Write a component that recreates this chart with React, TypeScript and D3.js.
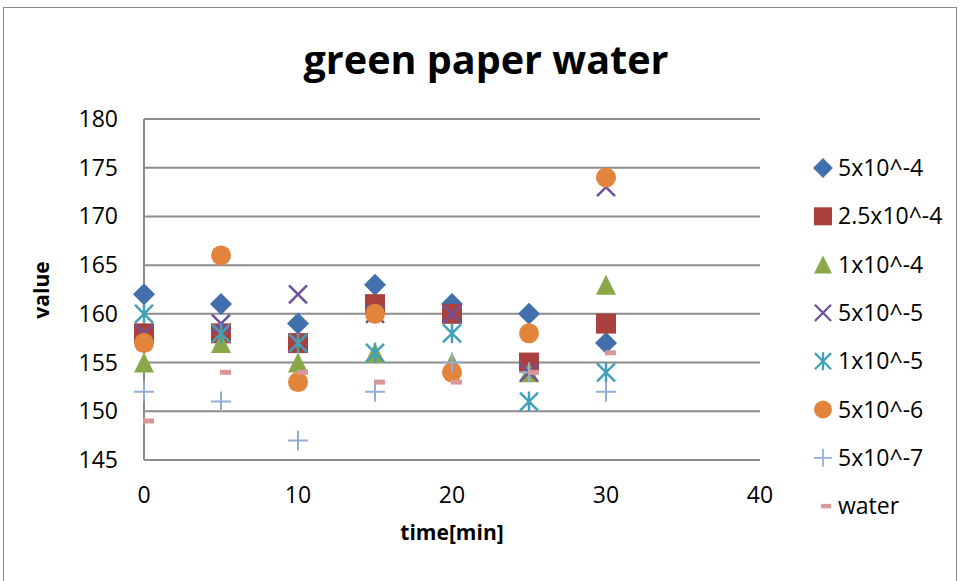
import React from "react";
import * as d3 from "d3";

const times = [0, 5, 10, 15, 20, 25, 30];
const seriesNames = ["5x10^-4", "2.5x10^-4", "1x10^-4", "5x10^-5", "1x10^-5", "5x10^-6", "5x10^-7", "water"];
const s1 = [162, 161, 159, 163, 161, 160, 157];
const s2 = [158, 158, 157, 161, 160, 155, 159];
const s3 = [155, 157, 155, 156, 155, 154, 163];
const s4 = [158, 159, 162, 160, 160, 154, 173];
const s5 = [160, 158, 157, 156, 158, 151, 154];
const s6 = [157, 166, 153, 160, 154, 158, 174];
const s7 = [152, 151, 147, 152, 155, 154, 152];
const s8 = [149, 154, 154, 153, 153, 154, 156];
const seriesValues = [s1, s2, s3, s4, s5, s6, s7, s8];
const markerKinds = ["diamond", "square", "triangle", "x", "star", "circle", "plus", "dash"];
const colors = ["#4170AD", "#A9423F", "#8AA84A", "#6F529E", "#42A0B8", "#E3843C", "#93AED6", "#D99798"];
const yTicks = [145, 150, 155, 160, 165, 170, 175, 180];
const xTicks = [0, 10, 20, 30, 40];

const FONT = "'Open Sans', 'Noto Sans', sans-serif";

function Marker({ kind, color, x, y, s = 1 }: { kind: string; color: string; x: number; y: number; s?: number }) {
  const t = `translate(${x},${y}) scale(${s})`;
  switch (kind) {
    case "diamond":
      return <path transform={t} d="M0,-11L11,0L0,11L-11,0Z" fill={color} />;
    case "square":
      return <rect transform={t} x={-10} y={-10} width={20} height={20} fill={color} />;
    case "triangle":
      return <path transform={t} d="M0,-10L10,10L-10,10Z" fill={color} />;
    case "circle":
      return <circle transform={t} r={10} fill={color} />;
    case "x":
      return (
        <path transform={t} d="M-9,-9L9,9M9,-9L-9,9" stroke={color} strokeWidth={2.5} fill="none" />
      );
    case "star":
      return (
        <path transform={t} d="M-9,-9L9,9M9,-9L-9,9M0,-10L0,10" stroke={color} strokeWidth={2.5} fill="none" />
      );
    case "plus":
      return <path transform={t} d="M-10,0L10,0M0,-10L0,10" stroke={color} strokeWidth={2} fill="none" />;
    case "dash":
      return <rect transform={t} x={-1} y={-2.5} width={11} height={5} fill={color} />;
    default:
      return null;
  }
}

export default function App() {
  const W = 960;
  const H = 581;
  const left = 144;
  const right = 760;
  const top = 119;
  const bottom = 460;
  const x = d3.scaleLinear().domain([0, 40]).range([left, right]);
  const y = d3.scaleLinear().domain([145, 180]).range([bottom, top]);
  const legendX = 823;
  const legendY0 = 168;
  const legendStep = 48.3;

  return (
    <svg width={W} height={H} style={{ position: "absolute", left: 0, top: 0 }} fontFamily={FONT}>
      <rect x={0} y={0} width={W} height={H} fill="#fff" />
      <rect x={3.5} y={7.5} width={953} height={600} fill="none" stroke="#8a8a8a" strokeWidth={1} />
      <text x={486} y={74} textAnchor="middle" fontSize={40} fontWeight="bold" fill="#000" textLength={365} lengthAdjust="spacingAndGlyphs">
        green paper water
      </text>
      {yTicks.map((v) => (
        <line key={"g" + v} x1={left} x2={right} y1={y(v)} y2={y(v)} stroke="#8c8c8c" strokeWidth={2} />
      ))}
      <line x1={left} x2={left} y1={top} y2={bottom} stroke="#8c8c8c" strokeWidth={2} />
      {yTicks.map((v) => (
        <text key={"yt" + v} x={118} y={y(v)} dy="0.35em" textAnchor="end" fontSize={23} fill="#000">
          {v}
        </text>
      ))}
      {xTicks.map((v) => (
        <text key={"xt" + v} x={x(v)} y={495} dy="0.35em" textAnchor="middle" fontSize={23} fill="#000">
          {v}
        </text>
      ))}
      <text x={452} y={533} dy="0.35em" textAnchor="middle" fontSize={21} fontWeight="bold" fill="#000">
        time[min]
      </text>
      <text transform={`translate(42,290) rotate(-90)`} textAnchor="middle" dy="0.35em" fontSize={21} fontWeight="bold" fill="#000">
        value
      </text>
      {seriesValues.map((vals, si) =>
        vals.map((v, i) => (
          <Marker key={`m${si}-${i}`} kind={markerKinds[si]} color={colors[si]} x={x(times[i])} y={y(v)} />
        ))
      )}
      {seriesNames.map((name, si) => {
        const ly = legendY0 + si * legendStep;
        return (
          <g key={"l" + si}>
            <Marker kind={markerKinds[si]} color={colors[si]} x={markerKinds[si] === "dash" ? 822 : legendX} y={ly} s={0.9} />
            <text x={838} y={ly} dy="0.35em" fontSize={23} fill="#000">
              {name}
            </text>
          </g>
        );
      })}
    </svg>
  );
}
